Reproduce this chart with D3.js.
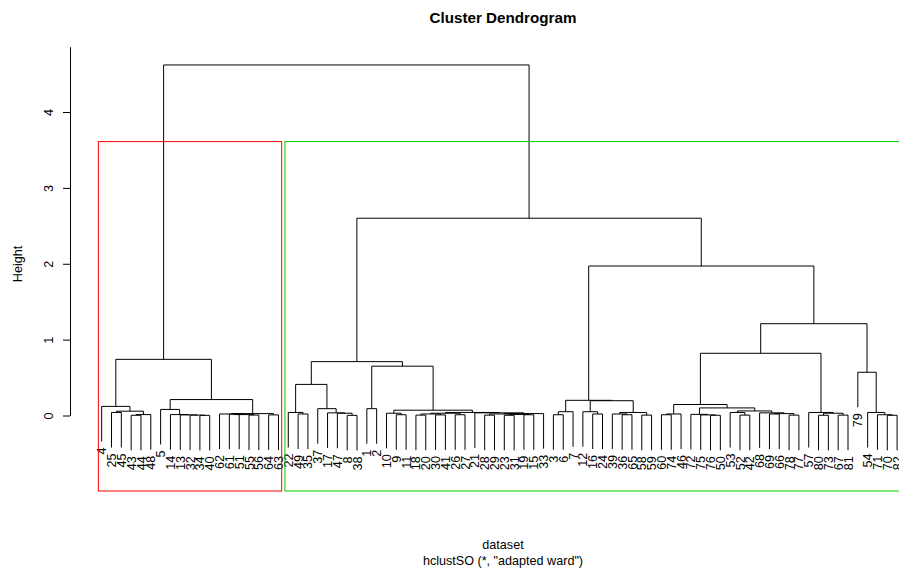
<!DOCTYPE html>
<html>
<head>
<meta charset="utf-8">
<script src="https://cdn.jsdelivr.net/npm/d3@7"></script>
<style>
  body { margin: 0; background: #fff; }
  text { font-family: "Liberation Sans", Arial, Helvetica, sans-serif; }
</style>
</head>
<body>
<svg id="chart" width="899" height="575"></svg>
<script>
// Leaf order along the x axis (observation labels)
const leafLabels = [
  "4","25","45","43","44","48","5","14","13","32","34","40","62","61","51","55","56","64","63",
  "22","49","35","37","17","47","8","38","1","2",
  "10","9","11","18","20","30","41","26","27","21","28","29","23","31","19","15","33",
  "3","6","7","12","16","24","39","36","65","58","59","60","74","46","72","75","76","50","53",
  "52","42","68","69","66","78","77","57","80","73","67","81","79","54","71","70","82"
];

// Sub-trees written as (left,right):mergeHeight
const redLeft   = "(4,((25,45):0.04,((43,44):0.003,48):0.012):0.057):0.12";
const redRight  = "((5,(14,(13,(32,(34,40):0.002):0.005):0.008):0.012):0.08,((62,((61,51):0.018,(55,56):0.006):0.012):0.02,(64,63):0.008):0.025):0.21";
const greenA    = "((22,(49,35):0.02):0.04,(37,(17,(47,(8,38):0.002):0.03):0.035):0.09):0.41";
const greenB    = "((1,2):0.09,((10,(9,11):0.01):0.03,((((18,20):0.005,(30,41):0.008):0.02,(26,27):0.01):0.03,(21,(((28,29):0.005,((23,31):0.003,(19,15):0.01):0.015):0.02,33):0.025):0.035):0.04):0.07):0.65";
const greenC    = "(((3,6):0.01,7):0.05,((12,(16,24):0.02):0.05,((39,(36,65):0.01):0.02,(58,59):0.005):0.04):0.195):0.2";
const greenD    = "((((60,74):0.01,46):0.02,((72,(75,(76,50):0.003):0.008):0.015,((53,(52,42):0.005):0.04,(68,((69,66):0.02,(78,77):0.005):0.025):0.035):0.06):0.1):0.145,(57,((80,73):0.003,(67,81):0.005):0.03):0.04):0.82";
const greenE    = "(79,(54,(71,(70,82):0.003):0.01):0.04):0.57";

// Heights of the top-level merges: [red cluster, green-left, green-right, upper right, green cluster, root]
const topHeights = [0.74, 0.71, 1.97, 1.21, 2.6, 4.62];

const redTree   = `(${redLeft},${redRight}):${topHeights[0]}`;
const greenTree = `((${greenA},${greenB}):${topHeights[1]},(${greenC},(${greenD},${greenE}):${topHeights[3]}):${topHeights[2]}):${topHeights[4]}`;
const fullTree  = `(${redTree},${greenTree}):${topHeights[5]}`;

const heightTicks = [0, 1, 2, 3, 4];
const cutHeight = (topHeights[5] + topHeights[4]) / 2;   // rect.hclust k = 2
const clusterColors = ["#ff0000", "#00cd00"];

// ---- parse nested "(a,b):h" notation ----
function parseTree(s) {
  s = s.replace(/\s+/g, "");
  let i = 0;
  function node() {
    if (s[i] === "(") {
      i++;
      const left = node();
      i++;                      // ','
      const right = node();
      i++;                      // ')'
      i++;                      // ':'
      const j = i;
      while (i < s.length && /[0-9.]/.test(s[i])) i++;
      return { children: [left, right], height: +s.slice(j, i) };
    }
    const j = i;
    while (i < s.length && /[^,()]/.test(s[i])) i++;
    return { label: s.slice(j, i) };
  }
  return node();
}

const root = parseTree(fullTree);

const svg = d3.select("#chart");
const fs = 12.6;

const x = d3.scalePoint().domain(leafLabels).range([101.7, 897.1]);
const y = d3.scaleLinear().domain([0, 4]).range([415.5, 112]);
const hang = 0.1 * topHeights[5];

// leaf x positions, node x = midpoint of children
function layout(n) {
  if (n.children) {
    n.children.forEach(layout);
    n.x = (n.children[0].x + n.children[1].x) / 2;
  } else {
    n.x = x(n.label);
  }
}
layout(root);

const g = svg.append("g");
const leaves = [];
function draw(n) {
  if (!n.children) return;
  const [a, b] = n.children;
  const yTop = y(n.height);
  const yA = a.children ? y(a.height) : y(n.height - hang);
  const yB = b.children ? y(b.height) : y(n.height - hang);
  if (!a.children) leaves.push({ label: a.label, x: a.x, end: yA });
  if (!b.children) leaves.push({ label: b.label, x: b.x, end: yB });
  g.append("path")
    .attr("d", `M${a.x},${yA}V${yTop}H${b.x}V${yB}`)
    .attr("fill", "none")
    .attr("stroke", "#000")
    .attr("stroke-width", 1);
  draw(a); draw(b);
}
draw(root);

// leaf labels, rotated and hanging below each leaf
svg.append("g").selectAll("text")
  .data(leaves)
  .join("text")
  .attr("transform", d => `translate(${d.x},${d.end + 6}) rotate(-90)`)
  .attr("text-anchor", "end")
  .attr("dy", "0.36em")
  .attr("font-size", fs)
  .attr("fill", "#000")
  .text(d => d.label);

// cluster rectangles
const redLeaves = 19;
const step = x.step();
const plotBottom = 491;
const clusters = [
  { from: leafLabels[0], to: leafLabels[redLeaves - 1] },
  { from: leafLabels[redLeaves], to: leafLabels[leafLabels.length - 1] }
];
svg.append("g").selectAll("rect")
  .data(clusters)
  .join("rect")
  .attr("x", d => x(d.from) - 0.34 * step)
  .attr("y", y(cutHeight))
  .attr("width", d => x(d.to) - x(d.from) + 0.67 * step)
  .attr("height", d => plotBottom - y(cutHeight))
  .attr("fill", "none")
  .attr("stroke", (d, i) => clusterColors[i])
  .attr("stroke-width", 1);

// y axis
const yAxisScale = d3.scaleLinear().domain([0, 4.86]).range([y(0), y(4.86)]);
const axisG = svg.append("g")
  .attr("transform", "translate(70,0)")
  .call(d3.axisLeft(yAxisScale).tickValues(heightTicks).tickSize(7).tickSizeOuter(0).tickFormat(d3.format("d")));
axisG.select(".domain").attr("stroke", "#000");
axisG.selectAll(".tick line").attr("stroke", "#000");
axisG.selectAll(".tick text")
  .attr("x", 0).attr("y", -17).attr("dy", 0)
  .attr("transform", "rotate(-90)")
  .attr("text-anchor", "middle")
  .attr("font-size", fs)
  .attr("font-family", null)
  .attr("fill", "#000");

// titles
svg.append("text")
  .attr("x", 503).attr("y", 23)
  .attr("text-anchor", "middle")
  .attr("font-size", 15.2).attr("font-weight", "bold")
  .text("Cluster Dendrogram");

svg.append("text")
  .attr("transform", "translate(22,264) rotate(-90)")
  .attr("text-anchor", "middle")
  .attr("font-size", fs)
  .text("Height");

svg.append("text")
  .attr("x", 503).attr("y", 549)
  .attr("text-anchor", "middle")
  .attr("font-size", fs)
  .text("dataset");

svg.append("text")
  .attr("x", 503).attr("y", 565)
  .attr("text-anchor", "middle")
  .attr("font-size", fs)
  .text('hclustSO (*, "adapted ward")');
</script>
</body>
</html>
